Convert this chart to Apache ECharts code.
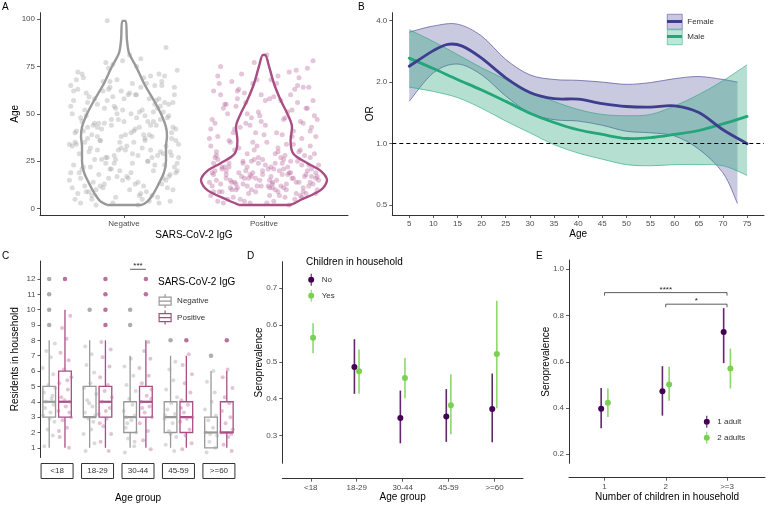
<!DOCTYPE html>
<html>
<head>
<meta charset="utf-8">
<script src="https://cdn.jsdelivr.net/npm/echarts@6/dist/echarts.min.js"></script>
<style>
  html, body { margin: 0; padding: 0; background: #fff; }
  #chart { width: 768px; height: 505px; }
</style>
</head>
<body>
<div id="chart"></div>
<script>
// ---- panel A: age by IgG status (jittered points + violin outline) ----
var iggGroups = ['Negative', 'Positive'];
// [jitter offset from category, age]
var negPoints = [[-0.35,5],[0.12,8],[-0.08,3],[0.31,11],[-0.22,14],[0.02,17],[0.38,20],[-0.29,22],[0.17,25],[-0.13,27],
  [0.26,30],[-0.37,33],[0.07,35],[-0.02,38],[0.34,40],[-0.19,43],[0.21,46],[-0.31,48],[0.11,51],[-0.06,53],
  [0.29,56],[-0.25,59],[0.04,61],[0.36,64],[-0.15,67],[0.19,70],[-0.33,72],[0.09,75],[-0.01,78],[0.24,6],
  [-0.27,9],[0.14,12],[-0.39,15],[0.33,18],[-0.1,21],[0.06,24],[-0.21,26],[0.28,29],[-0.04,31],[0.39,34],
  [-0.17,36],[0.01,39],[-0.34,41],[0.23,44],[-0.09,47],[0.15,49],[-0.28,52],[0.32,55],[-0.12,57],[0.08,60],
  [-0.36,62],[0.27,65],[-0.05,68],[0.18,4],[-0.23,7],[0.35,10],[-0.14,13],[0.03,16],[-0.32,19],[0.22,23],
  [-0.07,28],[0.13,32],[-0.26,37],[0.37,42],[-0.18,45],[0.05,50],[-0.38,54],[0.25,58],[-0.11,63],[0.16,66],
  [-0.3,71],[0.1,2],[-0.2,10],[0.3,15],[-0.03,20],[0.2,27],[-0.24,32],[0.34,37],[-0.16,42],[0.0,46],
  [-0.37,50],[0.26,54],[-0.08,59],[0.12,64],[-0.29,69],[0.38,73],[-0.13,77],[0.04,81],[0.3,85],[-0.12,99],
  [0.25,3],[-0.33,8],[0.08,13],[-0.18,18],[0.36,22],[-0.06,26],[0.19,31],[-0.35,35],[0.14,39],[-0.22,44],
  [0.31,48],[-0.01,52],[0.23,57],[-0.27,61],[0.06,66],[-0.15,11],[0.28,16],[-0.09,21],[0.17,25],[-0.32,29],
  [0.02,33],[-0.19,38],[0.35,43],[-0.04,47],[0.21,51],[-0.26,56],[0.09,60],[-0.38,65],[0.29,70],[-0.11,74],
  [0.13,5],[-0.28,12],[0.37,19],[-0.07,24],[0.24,28],[-0.34,34],[0.05,40],[-0.21,45],[0.32,49],[-0.14,53],
  [0.18,58],[-0.02,62],[0.27,67],[-0.25,9],[0.1,14],[-0.36,23],[0.33,30],[-0.17,36],[0.07,41],[-0.3,46],
  [0.22,55],[-0.1,64],[0.15,36],[-0.23,39],[0.39,27],[-0.05,17],[0.2,7],[-0.31,3],[0.11,43],[-0.19,31],
  [-0.2,2],[0.33,4],[-0.06,6],[0.16,9],[-0.37,11],[0.27,13],[-0.11,16],[0.05,19],[-0.3,21],[0.38,24],
  [-0.16,26],[0.1,28],[-0.25,30],[0.3,33],[-0.03,35],[0.2,38],[-0.35,40],[0.08,42],[-0.14,45],[0.26,47],
  [-0.27,49],[0.13,52],[-0.07,54],[0.35,56],[-0.21,58],[0.03,60],[-0.33,63],[0.22,65],[-0.1,67],[0.14,69],
  [-0.38,19],[0.29,23],[-0.12,27],[0.01,31],[0.37,36],[-0.29,41],[0.17,46],[-0.05,50],[0.24,53],[-0.36,57],
  [0.11,7],[-0.17,12],[0.32,17],[-0.24,22],[0.06,29],[-0.39,34],[0.18,39],[-0.09,44],[0.28,51],[-0.19,55],
  [0.0,58],[-0.31,16],[0.21,20],[-0.13,24],[0.34,28],[-0.02,32],[0.15,37],[-0.26,43],[0.09,48],[-0.15,62],
  [0.25,71],[-0.08,76],[0.12,79],[-0.34,68],[0.36,60],[-0.23,5],[0.04,10],[-0.28,35],[0.19,44],[-0.01,15]];
var posPoints = [[-0.33,4],[0.15,6],[-0.06,9],[0.28,11],[-0.2,13],[0.04,15],[0.37,16],[-0.27,18],[0.11,20],[-0.12,22],
  [0.22,5],[-0.38,7],[0.08,10],[-0.02,12],[0.33,14],[-0.16,17],[0.19,19],[-0.3,21],[0.01,23],[-0.09,25],
  [0.3,8],[-0.24,11],[0.06,13],[0.39,15],[-0.14,16],[0.17,18],[-0.35,20],[0.13,24],[-0.04,27],[0.25,30],
  [-0.29,3],[0.1,9],[-0.37,12],[0.34,17],[-0.08,19],[0.03,21],[-0.21,14],[0.27,23],[-0.01,26],[0.36,29],
  [-0.18,32],[0.02,35],[-0.33,38],[0.21,41],[-0.1,44],[0.14,47],[-0.26,50],[0.31,53],[-0.13,56],[0.07,59],
  [-0.36,62],[0.24,65],[-0.05,68],[0.18,72],[-0.31,75],[0.35,78],[0.02,81],[-0.22,6],[0.12,12],[-0.34,15],
  [0.38,10],[-0.11,8],[0.05,17],[-0.25,24],[0.29,28],[-0.07,31],[0.16,34],[-0.39,37],[0.09,40],[-0.17,43],
  [0.26,46],[-0.03,49],[0.2,52],[-0.28,55],[0.04,58],[-0.14,61],[0.32,64],[-0.23,67],[0.1,70],[-0.36,9],
  [0.07,4],[-0.19,11],[0.23,14],[-0.06,16],[0.37,19],[-0.3,22],[0.14,26],[-0.12,29],[0.33,33],[-0.25,36],
  [0.0,39],[-0.38,42],[0.28,45],[-0.09,48],[0.17,51],[-0.2,54],[0.35,57],[-0.02,60],[0.22,63],[-0.32,66],
  [0.11,7],[-0.15,13],[0.3,18],[-0.27,20],[0.05,22],[0.19,25],[-0.35,27],[0.26,31],[-0.08,35],[0.13,39],
  [-0.21,42],[0.38,47],[-0.04,51],[0.24,56],[-0.31,60],[0.09,66],[-0.16,71],[0.31,74],[-0.1,3],[0.16,10],
  [-0.24,15],[0.34,21],[-0.01,18],[0.2,16],[-0.37,19],[0.06,14],[-0.12,12],[0.28,9],[-0.33,26],[0.15,28],
  [-0.05,33],[0.27,37],[-0.22,40],[0.01,44],[0.36,49],[-0.29,53],[0.12,57],[-0.18,63],[0.25,69],[-0.07,77],
  [0.18,2],[-0.26,5],[0.32,12],[-0.13,20],[0.08,24],[-0.34,30],[0.21,34],[-0.02,46],[0.33,41],[-0.19,58],
  [0.04,11],[-0.09,17],[0.14,21],[-0.31,13],[0.23,8],[-0.15,25],[0.39,23],[-0.23,10],[0.1,30],[-0.37,47],
  [0.02,3],[-0.17,5],[0.26,7],[-0.32,9],[0.14,11],[-0.05,12],[0.35,13],[-0.23,14],[0.09,15],[-0.11,16],
  [0.29,17],[-0.36,18],[0.18,19],[-0.01,20],[0.07,21],[-0.28,22],[0.32,23],[-0.15,24],[0.24,25],[-0.07,26],
  [0.12,27],[-0.34,28],[0.37,8],[-0.2,10],[0.03,12],[-0.39,14],[0.21,16],[-0.1,18],[0.31,20],[-0.25,22],
  [0.16,13],[-0.03,15],[0.38,17],[-0.18,19],[0.06,11],[-0.3,9],[0.27,6],[-0.14,4],[0.1,32],[-0.24,35],
  [0.2,38],[-0.06,40],[0.34,43],[-0.35,45],[0.15,48],[-0.12,50],[0.3,53],[-0.27,55],[0.01,57],[0.19,60],
  [-0.19,62],[0.28,64],[-0.08,66],[0.05,68],[-0.33,70],[0.23,73],[-0.13,45],[0.37,38],[-0.38,33],[0.08,29],
  [-0.21,31],[0.33,27],[-0.04,24],[0.13,18],[-0.27,16],[0.25,14],[-0.09,10],[0.04,7],[-0.36,24],[0.17,22]];
// violin outlines: age and half width
var negViolinAge = [2, 4, 8, 12, 19, 25, 33, 38, 43, 50, 57, 66, 75, 82, 89, 99];
var negViolinHalf = [0.12, 0.17, 0.21, 0.24, 0.285, 0.30, 0.30, 0.307, 0.30, 0.264, 0.214, 0.143, 0.086, 0.036, 0.021, 0.012];
var posViolinAge = [2, 4.6, 9.8, 15, 20, 24, 29, 36, 43, 50, 57, 66, 75, 81];
var posViolinHalf = [0.18, 0.26, 0.405, 0.45, 0.405, 0.31, 0.21, 0.19, 0.20, 0.167, 0.12, 0.071, 0.036, 0.008];
var ageTicksA = [0, 25, 50, 75, 100];

// ---- panel B: OR by age ----
var ageB = [5, 10, 15, 20, 25, 30, 35, 40, 45, 50, 55, 60, 65, 70, 75];
var femaleLineAge = [5, 10, 13, 16, 20, 25, 30, 35, 40, 45, 50, 55, 60, 65, 70, 75];
var femaleOR = [2.39, 2.85, 3.06, 3.0, 2.62, 2.10, 1.78, 1.66, 1.65, 1.57, 1.52, 1.51, 1.53, 1.42, 1.17, 1.00];
var maleOR = [2.62, 2.33, 2.06, 1.83, 1.61, 1.41, 1.27, 1.17, 1.11, 1.06, 1.07, 1.11, 1.16, 1.25, 1.36];
var femaleBandAge = [5, 10, 15, 20, 25, 30, 35, 40, 45, 50, 55, 60, 65, 70, 73];
var femaleLow = [1.61, 2.22, 2.45, 2.17, 1.71, 1.41, 1.31, 1.29, 1.23, 1.15, 1.13, 1.09, 0.94, 0.72, 0.51];
var femaleHigh = [3.51, 3.76, 3.84, 3.36, 2.58, 2.17, 2.06, 2.04, 2.00, 1.95, 1.99, 2.08, 2.13, 2.06, 2.00];
var maleLow = [1.89, 1.80, 1.68, 1.49, 1.29, 1.13, 0.99, 0.90, 0.84, 0.79, 0.78, 0.79, 0.79, 0.78, 0.70];
var maleHigh = [3.61, 3.16, 2.73, 2.35, 2.06, 1.80, 1.61, 1.47, 1.39, 1.37, 1.39, 1.53, 1.74, 2.03, 2.43];
var ageTicksB = [5, 10, 15, 20, 25, 30, 35, 40, 45, 50, 55, 60, 65, 70, 75];
var orTicks = [0.5, 1, 2, 4];

// ---- panel C: residents in household ----
var ageGroups = ['<18', '18-29', '30-44', '45-59', '>=60'];
// min, q1, median, q3, max
var boxNeg = [[1, 3, 4, 5, 8], [1, 3, 3, 5, 8], [1, 2, 3, 4, 7], [1, 2, 3, 4, 7], [1, 1, 2, 3, 6]];
var boxPos = [[1, 3, 4, 6, 10], [1, 3, 4, 5, 8], [1, 3, 4, 5, 8], [1, 2, 3, 4, 7], [1, 2, 2, 4, 6]];
var outNeg = [[9, 10, 11, 12], [10], [9, 10], [8], [7]];
var outPos = [[12], [9, 10, 11, 12], [11, 12], [8], [8]];
var jitNeg = [
  [[-0.12,1.1],[0.09,1.8],[-0.04,2.2],[0.13,2.7],[-0.15,3.1],[0.03,3.3],[0.11,3.8],[-0.08,4.0],[0.06,4.2],[-0.13,4.6],[0.15,4.9],[-0.02,5.1],[0.1,5.8],[-0.16,6.2],[0.04,6.9],[-0.07,7.3],[0.14,7.8],[-0.1,3.6],[0.01,2.9],[0.08,4.4]],
  [[-0.1,0.8],[0.12,1.3],[-0.15,1.9],[0.04,2.2],[-0.03,2.9],[0.14,3.1],[-0.12,3.3],[0.07,3.7],[-0.06,4.1],[0.16,4.5],[-0.14,4.9],[0.02,5.2],[0.11,5.9],[-0.08,6.4],[0.05,7.1],[-0.11,7.6],[0.09,2.7],[-0.01,3.9]],
  [[-0.13,0.7],[0.1,1.1],[-0.05,1.6],[0.15,2.0],[-0.11,2.3],[0.03,2.8],[0.12,3.1],[-0.16,3.4],[0.06,3.8],[-0.02,4.2],[0.14,4.7],[-0.09,5.1],[0.08,5.7],[-0.14,6.3],[0.02,6.8],[-0.07,2.6],[0.11,1.4],[-0.1,3.0]],
  [[0.09,0.8],[-0.12,1.2],[0.14,1.7],[-0.04,2.1],[0.05,2.6],[-0.15,2.9],[0.11,3.2],[-0.08,3.5],[0.02,3.9],[0.16,4.3],[-0.11,4.8],[0.07,5.4],[-0.03,6.1],[0.12,6.6],[-0.14,3.1],[0.0,1.9]],
  [[-0.11,0.7],[0.1,1.0],[-0.04,1.4],[0.15,1.8],[-0.14,2.0],[0.05,2.3],[-0.07,2.8],[0.12,3.1],[-0.15,3.5],[0.02,4.0],[0.09,4.6],[-0.1,5.3],[0.06,6.0],[-0.02,1.9]]
];
var jitPos = [
  [[0.1,1.0],[-0.13,1.7],[0.05,2.3],[-0.06,2.8],[0.15,3.0],[-0.16,3.4],[0.02,3.7],[0.12,4.0],[-0.09,4.3],[0.07,4.8],[-0.14,5.2],[0.16,5.6],[-0.03,6.1],[0.09,6.7],[-0.11,7.2],[0.04,8.1],[-0.07,8.8],[0.13,9.6],[-0.01,4.1],[0.11,3.3],[-0.15,2.1],[0.06,5.4]],
  [[0.08,0.8],[-0.12,1.4],[0.14,1.9],[-0.05,2.4],[0.03,2.9],[-0.16,3.2],[0.11,3.6],[-0.08,4.0],[0.16,4.3],[-0.02,4.7],[0.06,5.1],[-0.13,5.6],[0.1,6.3],[-0.07,6.9],[0.13,7.4],[-0.1,7.9],[0.01,3.4],[-0.14,2.6]],
  [[0.12,0.9],[-0.07,1.5],[0.05,2.1],[-0.15,2.6],[0.15,3.0],[-0.03,3.3],[0.09,3.7],[-0.12,4.0],[0.02,4.4],[0.14,4.8],[-0.1,5.2],[0.07,5.7],[-0.16,6.2],[0.11,6.8],[-0.04,7.3],[0.06,7.9],[-0.09,3.6],[0.13,4.2]],
  [[-0.1,0.9],[0.13,1.3],[-0.02,1.8],[0.08,2.2],[-0.15,2.7],[0.15,3.0],[-0.06,3.3],[0.04,3.8],[-0.12,4.1],[0.1,4.6],[-0.04,5.2],[0.14,5.8],[-0.09,6.4],[0.06,7.1],[0.01,2.9],[-0.13,3.6]],
  [[0.12,0.8],[-0.08,1.2],[0.04,1.7],[-0.15,2.0],[0.15,2.2],[-0.03,2.6],[0.09,3.0],[-0.12,3.4],[0.06,3.9],[-0.05,4.3],[0.14,4.9],[-0.1,5.6],[0.02,6.1],[0.11,1.9]]
];
var residentTicks = [1, 2, 3, 4, 5, 6, 7, 8, 9, 10, 11, 12];
var cBrackets = [[2, 2, 12.63]];
var cBracketLabels = ['***'];

// ---- panel D: seroprevalence by age group and children ----
var childGroups = ['No', 'Yes'];
var dNoEst = [null, 0.486, 0.348, 0.352, 0.372];
var dNoLow = [null, 0.413, 0.279, 0.283, 0.282];
var dNoHigh = [null, 0.561, 0.422, 0.426, 0.468];
var dYesEst = [0.565, 0.474, 0.456, 0.382, 0.521];
var dYesLow = [0.523, 0.414, 0.401, 0.304, 0.374];
var dYesHigh = [0.604, 0.533, 0.510, 0.466, 0.665];
var seroTicksD = [0.3, 0.4, 0.5, 0.6, 0.7];

// ---- panel E: seroprevalence by number of children ----
var childCounts = ['1', '2', '>=3'];
var adultGroups = ['1 adult', '2 adults'];
var eOneEst = [0.397, 0.473, 0.729];
var eOneLow = [0.313, 0.367, 0.594];
var eOneHigh = [0.487, 0.581, 0.832];
var eTwoEst = [0.423, 0.502, 0.571];
var eTwoLow = [0.361, 0.431, 0.484];
var eTwoHigh = [0.484, 0.578, 0.657];
var seroTicksE = [0.2, 0.4, 0.6, 0.8, 1.0];
var eBrackets = [[0, 2, 0.899], [1, 2, 0.849]];
var eBracketLabels = ['****', '*'];

// ---- styles ----
var FONT = '"Liberation Sans", Arial, sans-serif';
var AXIS = '#333333';
var TICKTXT = '#4d4d4d';
var GREY = '#999999';
var PINK = '#a94e84';
var FEMALE = '#3e3d8e';
var MALE = '#22a67a';
var PURPLE = '#440154';
var GREEN = '#7ad151';
var DODGE_C = 0.195;

function log2(v) { return Math.log(v) / Math.LN2; }

function axis(grid, min, max, ticks, fmt, extra) {
  var a = {
    type: 'value', gridIndex: grid, min: min, max: max,
    axisLine: {show: true, onZero: false, lineStyle: {color: AXIS, width: 1}},
    axisTick: {show: true, length: 3, customValues: ticks, lineStyle: {color: AXIS, width: 0.8}},
    axisLabel: {customValues: ticks, formatter: fmt, fontSize: 8, color: TICKTXT, margin: 5, fontFamily: FONT},
    splitLine: {show: false},
    nameLocation: 'middle',
    nameMoveOverlap: false,
    nameTextStyle: {fontSize: 10, color: '#000', fontFamily: FONT}
  };
  return Object.assign(a, extra || {});
}

function violinPath(center, ages, half) {
  var left = ages.map(function (a, i) { return [center - half[i], a]; });
  var right = ages.map(function (a, i) { return [center + half[i], a]; }).reverse();
  return left.concat(right, [left[0]]);
}

// cubic segments through pixel points (catmull-rom)
function curveThrough(pts) {
  var d = '';
  for (var i = 0; i < pts.length - 1; i++) {
    var p0 = pts[Math.max(i - 1, 0)], p1 = pts[i], p2 = pts[i + 1], p3 = pts[Math.min(i + 2, pts.length - 1)];
    d += ' C' + (p1[0] + (p2[0] - p0[0]) / 6) + ',' + (p1[1] + (p2[1] - p0[1]) / 6) +
      ' ' + (p2[0] - (p3[0] - p1[0]) / 6) + ',' + (p2[1] - (p3[1] - p1[1]) / 6) +
      ' ' + p2[0] + ',' + p2[1];
  }
  return d;
}

// confidence band drawn once from all rows [age, low, high]
function bandItem(fill, stroke, n) {
  return function (params, api) {
    if (params.dataIndexInside !== 0) { return null; }
    var up = [], lo = [];
    for (var i = 0; i < n; i++) {
      up.push(api.coord([api.value(0, i), api.value(2, i)]));
      lo.push(api.coord([api.value(0, i), api.value(1, i)]));
    }
    var loRev = lo.slice().reverse();
    var upD = 'M' + up[0][0] + ',' + up[0][1] + curveThrough(up);
    var loD = 'M' + lo[0][0] + ',' + lo[0][1] + curveThrough(lo);
    var fillD = upD + ' L' + loRev[0][0] + ',' + loRev[0][1] + curveThrough(loRev) + ' Z';
    return {type: 'group', children: [
      {type: 'path', shape: {pathData: fillD}, style: {fill: fill, stroke: null}},
      {type: 'path', shape: {pathData: upD}, style: {fill: null, stroke: stroke, lineWidth: 0.6}},
      {type: 'path', shape: {pathData: loD}, style: {fill: null, stroke: stroke, lineWidth: 0.6}}
    ]};
  };
}

// smooth estimate line drawn once from all rows [age, value]
function curveItem(color, n) {
  return function (params, api) {
    if (params.dataIndexInside !== 0) { return null; }
    var pts = [];
    for (var i = 0; i < n; i++) { pts.push(api.coord([api.value(0, i), api.value(1, i)])); }
    return {type: 'path', shape: {pathData: 'M' + pts[0][0] + ',' + pts[0][1] + curveThrough(pts)},
      style: {fill: null, stroke: color, lineWidth: 2.8, lineCap: 'round'}};
  };
}

function boxItem(color) {
  return function (params, api) {
    var x = api.value(0);
    var hw = api.size([0.157, 0])[0];
    var p = [1, 2, 3, 4, 5].map(function (d) { return api.coord([x, api.value(d)]); });
    var cx = p[0][0];
    var st = {stroke: color, lineWidth: 1.3, fill: null};
    return {type: 'group', children: [
      {type: 'line', shape: {x1: cx, y1: p[0][1], x2: cx, y2: p[1][1]}, style: st},
      {type: 'line', shape: {x1: cx, y1: p[3][1], x2: cx, y2: p[4][1]}, style: st},
      {type: 'rect', shape: {x: cx - hw, y: p[3][1], width: 2 * hw, height: p[1][1] - p[3][1]}, style: st},
      {type: 'line', shape: {x1: cx - hw, y1: p[2][1], x2: cx + hw, y2: p[2][1]}, style: {stroke: color, lineWidth: 2.2}}
    ]};
  };
}

function pointRange(color) {
  return function (params, api) {
    var x = api.value(0);
    var mid = api.coord([x, api.value(1)]);
    var lo = api.coord([x, api.value(2)]);
    var hi = api.coord([x, api.value(3)]);
    return {type: 'group', children: [
      {type: 'line', shape: {x1: lo[0], y1: lo[1], x2: hi[0], y2: hi[1]}, style: {stroke: color, lineWidth: 1.6, opacity: 0.85}},
      {type: 'circle', shape: {cx: mid[0], cy: mid[1], r: 3}, style: {fill: color}}
    ]};
  };
}

function bracketItem(labels, tick) {
  return function (params, api) {
    var a = api.coord([api.value(0), api.value(2)]);
    var b = api.coord([api.value(1), api.value(2)]);
    return {type: 'group', children: [
      {type: 'polyline', shape: {points: [[a[0], a[1] + tick], [a[0], a[1]], [b[0], b[1]], [b[0], b[1] + tick]]},
        style: {stroke: '#333', lineWidth: 0.8, fill: null}},
      {type: 'text', x: (a[0] + b[0]) / 2, y: a[1] + 1,
        style: {text: labels[params.dataIndex], fontSize: 8, align: 'center', verticalAlign: 'bottom', fill: '#222', fontFamily: FONT}}
    ]};
  };
}

function rangeData(est, low, high, offset) {
  var out = [];
  est.forEach(function (v, i) {
    if (v !== null) { out.push([i + offset, v, low[i], high[i]]); }
  });
  return out;
}

function boxData(stats, offset) {
  return stats.map(function (s, i) { return [i + offset].concat(s); });
}

function jitterData(groups, offset) {
  var out = [];
  groups.forEach(function (pts, i) {
    pts.forEach(function (p) { out.push([i + offset + p[0], p[1]]); });
  });
  return out;
}

function outlierData(groups, offset) {
  var out = [];
  groups.forEach(function (vals, i) {
    vals.forEach(function (v) { out.push([i + offset, v]); });
  });
  return out;
}

var prIcon = 'path://M2.5,0 L3.5,0 L3.5,12 L2.5,12 Z M3,3 A3,3 0 1 1 2.99,3 Z';
var boxIcon = 'path://M1,3 L13,3 L13,11 L1,11 Z M1,7 L13,7 M7,0 L7,3 M7,11 L7,14';

var chart = echarts.init(document.getElementById('chart'));

var option = {
  animation: false,
  backgroundColor: '#fff',
  textStyle: {fontFamily: FONT},
  title: [
    {text: 'A', left: 2, top: 2, padding: 0, textStyle: {fontSize: 10, fontWeight: 'normal', color: '#000'}},
    {text: 'B', left: 358, top: 2, padding: 0, textStyle: {fontSize: 10, fontWeight: 'normal', color: '#000'}},
    {text: 'C', left: 2, top: 251, padding: 0, textStyle: {fontSize: 10, fontWeight: 'normal', color: '#000'}},
    {text: 'D', left: 247, top: 251, padding: 0, textStyle: {fontSize: 10, fontWeight: 'normal', color: '#000'}},
    {text: 'E', left: 536, top: 251, padding: 0, textStyle: {fontSize: 10, fontWeight: 'normal', color: '#000'}},
    {text: 'SARS-CoV-2 IgG', left: 158, top: 277, padding: 0, textStyle: {fontSize: 10, fontWeight: 'normal', color: '#000'}},
    {text: 'Children in household', left: 306, top: 257.5, padding: 0, textStyle: {fontSize: 10, fontWeight: 'normal', color: '#000'}}
  ],
  legend: [
    {left: 158.5, top: 293.5, orient: 'vertical', padding: 0, itemWidth: 14, itemHeight: 14, itemGap: 1.3,
      selectedMode: false, symbolKeepAspect: true, textStyle: {fontSize: 8, color: '#333'},
      data: [
        {name: 'Negative', icon: boxIcon, itemStyle: {color: 'rgba(0,0,0,0)', borderColor: GREY, borderWidth: 1.2}},
        {name: 'Positive', icon: boxIcon, itemStyle: {color: 'rgba(0,0,0,0)', borderColor: PINK, borderWidth: 1.2}}
      ]},
    {left: 667, top: 14, orient: 'vertical', padding: 0, itemWidth: 15, itemHeight: 15, itemGap: 0,
      selectedMode: false, textStyle: {fontSize: 8, color: '#333'},
      data: [
        {name: 'Female', icon: 'rect', itemStyle: {color: '#c9c8e0', borderColor: FEMALE, borderWidth: 0.5}},
        {name: 'Male', icon: 'rect', itemStyle: {color: '#bce6d7', borderColor: MALE, borderWidth: 0.5}}
      ]},
    {left: 667, top: 20, orient: 'vertical', padding: 0, itemWidth: 15, itemHeight: 3, itemGap: 12,
      selectedMode: false, formatter: function () { return ''; }, textStyle: {fontSize: 1},
      data: [
        {name: 'Female', icon: 'rect', itemStyle: {color: FEMALE, borderWidth: 0}},
        {name: 'Male', icon: 'rect', itemStyle: {color: MALE, borderWidth: 0}}
      ]},
    {left: 308.2, top: 273.7, orient: 'vertical', padding: 0, itemWidth: 11, itemHeight: 12, itemGap: 4,
      selectedMode: false, symbolKeepAspect: true, textStyle: {fontSize: 8, color: '#333'},
      data: [
        {name: 'No', icon: prIcon, itemStyle: {color: PURPLE}},
        {name: 'Yes', icon: prIcon, itemStyle: {color: GREEN}}
      ]},
    {left: 703.8, top: 415.7, orient: 'vertical', padding: 0, itemWidth: 11, itemHeight: 12, itemGap: 4,
      selectedMode: false, symbolKeepAspect: true, textStyle: {fontSize: 8, color: '#333'},
      data: [
        {name: '1 adult', icon: prIcon, itemStyle: {color: PURPLE}},
        {name: '2 adults', icon: prIcon, itemStyle: {color: GREEN}}
      ]}
  ],
  grid: [
    {left: 40, top: 12.7, width: 308, height: 202.3, outerBoundsMode: 'none'},
    {left: 392.3, top: 12.7, width: 371.7, height: 202.3, outerBoundsMode: 'none'},
    {left: 40.5, top: 261, width: 195, height: 196.5, outerBoundsMode: 'none'},
    {left: 282.3, top: 261.7, width: 240.7, height: 201.6, outerBoundsMode: 'none'},
    {left: 569, top: 260, width: 196, height: 203.3, outerBoundsMode: 'none'}
  ],
  xAxis: [
    axis(0, 0.4, 2.6, [1, 2], function (v) { return iggGroups[v - 1]; },
      {name: 'SARS-CoV-2 IgG', nameGap: 15}),
    axis(1, 1.5, 78.5, ageTicksB, function (v) { return v; },
      {name: 'Age', nameGap: 14}),
    axis(2, -0.41, 4.41, [0, 1, 2, 3, 4], null, {
      name: 'Age group', nameGap: 36,
      axisLine: {show: false, onZero: false},
      axisTick: {show: false},
      axisLabel: {customValues: [0, 1, 2, 3, 4], formatter: function (v) { return ageGroups[v]; },
        fontSize: 8, color: '#333', margin: 6, fontFamily: FONT, width: 32, lineHeight: 9,
        padding: [3, 0, 3, 0], align: 'center', borderColor: '#333', borderWidth: 1}
    }),
    axis(3, -0.62, 4.62, [0, 1, 2, 3, 4], function (v) { return ageGroups[v]; },
      {name: 'Age group', nameGap: 14, offset: 15.4}),
    axis(4, -0.58, 2.62, [0, 1, 2], function (v) { return childCounts[v]; },
      {name: 'Number of children in household', nameGap: 15, offset: 14.4})
  ],
  yAxis: [
    axis(0, -3.3, 103.3, ageTicksA, function (v) { return v; }, {name: 'Age', nameGap: 20}),
    axis(1, -1.158, 2.127, orTicks.map(log2), function (v) { return Math.pow(2, v).toFixed(1); },
      {name: 'OR', nameGap: 17}),
    axis(2, 0.37, 13.17, residentTicks, function (v) { return v; },
      {name: 'Residents in household', nameGap: 20}),
    axis(3, 0.225, 0.771, seroTicksD, function (v) { return v.toFixed(1); },
      {name: 'Seroprevalence', nameGap: 18}),
    axis(4, 0.161, 1.04, seroTicksE, function (v) { return v.toFixed(1); },
      {name: 'Seroprevalence', nameGap: 18})
  ],
  series: [
    // A
    {type: 'scatter', name: 'A neg', xAxisIndex: 0, yAxisIndex: 0, symbolSize: 5, silent: true,
      itemStyle: {color: '#a3a3a3', opacity: 0.38},
      data: negPoints.map(function (p) { return [1 + p[0], p[1]]; })},
    {type: 'scatter', name: 'A pos', xAxisIndex: 0, yAxisIndex: 0, symbolSize: 5, silent: true,
      itemStyle: {color: '#b8669a', opacity: 0.38},
      data: posPoints.map(function (p) { return [2 + p[0], p[1]]; })},
    {type: 'line', name: 'A neg violin', xAxisIndex: 0, yAxisIndex: 0, smooth: 0.3, symbol: 'none', silent: true,
      lineStyle: {color: GREY, width: 2.4}, data: violinPath(1, negViolinAge, negViolinHalf)},
    {type: 'line', name: 'A pos violin', xAxisIndex: 0, yAxisIndex: 0, smooth: 0.3, symbol: 'none', silent: true,
      lineStyle: {color: PINK, width: 2.4}, data: violinPath(2, posViolinAge, posViolinHalf)},
    // B bands
    {type: 'custom', name: 'Female', xAxisIndex: 1, yAxisIndex: 1, silent: true, itemStyle: {color: FEMALE},
      encode: {x: 0, y: [1, 2]}, renderItem: bandItem('rgba(62,61,142,0.28)', FEMALE, femaleBandAge.length),
      data: femaleBandAge.map(function (a, i) { return [a, log2(femaleLow[i]), log2(femaleHigh[i])]; })},
    {type: 'custom', name: 'Male', xAxisIndex: 1, yAxisIndex: 1, silent: true, itemStyle: {color: MALE},
      encode: {x: 0, y: [1, 2]}, renderItem: bandItem('rgba(30,160,115,0.33)', MALE, ageB.length),
      data: ageB.map(function (a, i) { return [a, log2(maleLow[i]), log2(maleHigh[i])]; })},
    // B estimate lines
    {type: 'custom', name: 'Male', xAxisIndex: 1, yAxisIndex: 1, silent: true, itemStyle: {color: MALE},
      encode: {x: 0, y: 1}, renderItem: curveItem(MALE, ageB.length),
      data: ageB.map(function (a, i) { return [a, log2(maleOR[i])]; })},
    {type: 'custom', name: 'Female', xAxisIndex: 1, yAxisIndex: 1, silent: true, itemStyle: {color: FEMALE},
      encode: {x: 0, y: 1}, renderItem: curveItem(FEMALE, femaleLineAge.length),
      data: femaleLineAge.map(function (a, i) { return [a, log2(femaleOR[i])]; })},
    // OR = 1 reference
    {type: 'line', name: 'B ref', xAxisIndex: 1, yAxisIndex: 1, symbol: 'none', silent: true, data: [],
      markLine: {silent: true, symbol: 'none', label: {show: false},
        lineStyle: {color: '#000', type: [4, 3], width: 1.2}, data: [{yAxis: log2(1)}]}},
    // C
    {type: 'scatter', name: 'C neg pts', xAxisIndex: 2, yAxisIndex: 2, symbolSize: 4, silent: true,
      itemStyle: {color: '#a3a3a3', opacity: 0.4}, data: jitterData(jitNeg, -DODGE_C)},
    {type: 'scatter', name: 'C pos pts', xAxisIndex: 2, yAxisIndex: 2, symbolSize: 4, silent: true,
      itemStyle: {color: '#b8669a', opacity: 0.4}, data: jitterData(jitPos, DODGE_C)},
    {type: 'custom', name: 'Negative', xAxisIndex: 2, yAxisIndex: 2, itemStyle: {color: GREY},
      encode: {x: 0, y: [1, 2, 3, 4, 5]}, renderItem: boxItem(GREY), data: boxData(boxNeg, -DODGE_C)},
    {type: 'custom', name: 'Positive', xAxisIndex: 2, yAxisIndex: 2, itemStyle: {color: PINK},
      encode: {x: 0, y: [1, 2, 3, 4, 5]}, renderItem: boxItem(PINK), data: boxData(boxPos, DODGE_C)},
    {type: 'scatter', name: 'C neg out', xAxisIndex: 2, yAxisIndex: 2, symbolSize: 4.5, silent: true,
      itemStyle: {color: GREY}, data: outlierData(outNeg, -DODGE_C)},
    {type: 'scatter', name: 'C pos out', xAxisIndex: 2, yAxisIndex: 2, symbolSize: 4.5, silent: true,
      itemStyle: {color: PINK}, data: outlierData(outPos, DODGE_C)},
    {type: 'custom', name: 'C sig', xAxisIndex: 2, yAxisIndex: 2, silent: true,
      renderItem: bracketItem(cBracketLabels, 0),
      data: cBrackets.map(function (b) { return [b[0] - DODGE_C, b[1] + DODGE_C, b[2]]; })},
    // D
    {type: 'custom', name: 'No', xAxisIndex: 3, yAxisIndex: 3, itemStyle: {color: PURPLE},
      renderItem: pointRange(PURPLE), data: rangeData(dNoEst, dNoLow, dNoHigh, -0.05)},
    {type: 'custom', name: 'Yes', xAxisIndex: 3, yAxisIndex: 3, itemStyle: {color: GREEN},
      renderItem: pointRange(GREEN), data: rangeData(dYesEst, dYesLow, dYesHigh, 0.05)},
    // E
    {type: 'custom', name: '1 adult', xAxisIndex: 4, yAxisIndex: 4, itemStyle: {color: PURPLE},
      renderItem: pointRange(PURPLE), data: rangeData(eOneEst, eOneLow, eOneHigh, -0.055)},
    {type: 'custom', name: '2 adults', xAxisIndex: 4, yAxisIndex: 4, itemStyle: {color: GREEN},
      renderItem: pointRange(GREEN), data: rangeData(eTwoEst, eTwoLow, eTwoHigh, 0.055)},
    {type: 'custom', name: 'E sig', xAxisIndex: 4, yAxisIndex: 4, silent: true,
      renderItem: bracketItem(eBracketLabels, 3), data: eBrackets}
  ]
};

chart.setOption(option);
</script>
</body>
</html>
